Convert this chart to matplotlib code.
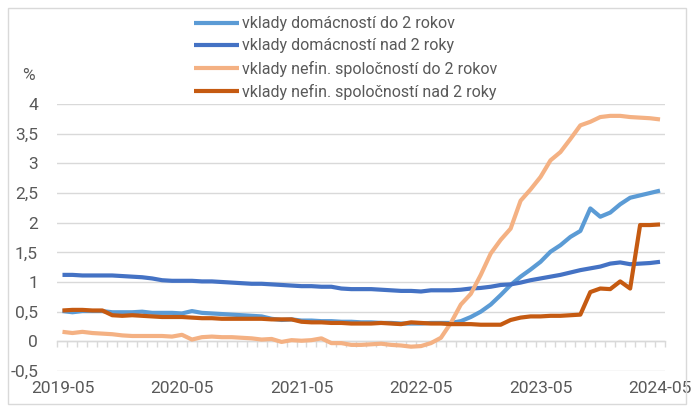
import matplotlib.pyplot as plt
import numpy as np
from matplotlib.patches import Rectangle
from matplotlib.transforms import blended_transform_factory

plt.rcParams["font.family"] = ["Roboto", "DejaVu Sans"]

# monthly observations 2019-05 .. 2024-05
months = [f"{y}-{m:02d}" for y in range(2019, 2025) for m in range(1, 13)]
months = months[4:65]

hh_short = [0.51, 0.49, 0.51, 0.51, 0.51, 0.49, 0.49, 0.49, 0.50, 0.48,
            0.48, 0.48, 0.47, 0.51, 0.48, 0.47, 0.46, 0.45, 0.44, 0.43,
            0.42, 0.38, 0.36, 0.37, 0.35, 0.35, 0.34, 0.34, 0.33, 0.33,
            0.32, 0.32, 0.31, 0.31, 0.30, 0.30, 0.30, 0.31, 0.31, 0.31,
            0.34, 0.41, 0.50, 0.62, 0.78, 0.95, 1.09, 1.21, 1.34, 1.51,
            1.62, 1.76, 1.86, 2.24, 2.10, 2.17, 2.31, 2.42, 2.46, 2.50,
            2.54]
hh_long = [1.12, 1.12, 1.11, 1.11, 1.11, 1.11, 1.10, 1.09, 1.08, 1.06,
           1.03, 1.02, 1.02, 1.02, 1.01, 1.01, 1.00, 0.99, 0.98, 0.97,
           0.97, 0.96, 0.95, 0.94, 0.93, 0.93, 0.92, 0.92, 0.89, 0.88,
           0.88, 0.88, 0.87, 0.86, 0.85, 0.85, 0.84, 0.86, 0.86, 0.86,
           0.87, 0.89, 0.90, 0.92, 0.95, 0.96, 0.99, 1.03, 1.06, 1.09,
           1.12, 1.16, 1.20, 1.23, 1.26, 1.31, 1.33, 1.30, 1.31, 1.32,
           1.34]
nfc_short = [0.16, 0.14, 0.16, 0.14, 0.13, 0.12, 0.10, 0.09, 0.09, 0.09,
             0.09, 0.08, 0.11, 0.03, 0.07, 0.08, 0.07, 0.07, 0.06, 0.05,
             0.03, 0.04, -0.01, 0.02, 0.01, 0.02, 0.05, -0.03, -0.03, -0.06,
             -0.06, -0.05, -0.04, -0.06, -0.07, -0.09, -0.08, -0.03, 0.06, 0.31,
             0.62, 0.80, 1.12, 1.48, 1.71, 1.90, 2.37, 2.56, 2.77, 3.05,
             3.19, 3.41, 3.64, 3.70, 3.78, 3.80, 3.80, 3.78, 3.77, 3.76,
             3.74]
nfc_long = [0.52, 0.53, 0.53, 0.52, 0.52, 0.44, 0.43, 0.44, 0.43, 0.42,
            0.41, 0.41, 0.41, 0.40, 0.39, 0.39, 0.38, 0.38, 0.38, 0.38,
            0.38, 0.37, 0.37, 0.37, 0.33, 0.32, 0.32, 0.31, 0.31, 0.30,
            0.30, 0.30, 0.31, 0.30, 0.29, 0.32, 0.31, 0.30, 0.30, 0.29,
            0.29, 0.29, 0.28, 0.28, 0.28, 0.36, 0.40, 0.42, 0.42, 0.43,
            0.43, 0.44, 0.45, 0.83, 0.89, 0.88, 1.01, 0.89, 1.96, 1.96,
            1.97]

labels = ["vklady domácností do 2 rokov",
          "vklady domácností nad 2 roky",
          "vklady nefin. spoločností do 2 rokov",
          "vklady nefin. spoločností nad 2 roky"]
colors = ["#5B9BD5", "#4472C4", "#F4B183", "#C55A11"]

yticks = [-0.5, 0, 0.5, 1, 1.5, 2, 2.5, 3, 3.5, 4]
ytick_labels = ["-0,5", "0", "0,5", "1", "1,5", "2", "2,5", "3", "3,5", "4"]

TXT = "#595959"
GRID = "#D9D9D9"

W, H = 692, 409
fig = plt.figure(figsize=(W / 100, H / 100), dpi=100)
ax = fig.add_axes([57.5 / W, (H - 371) / H, (665 - 57.5) / W, 267 / H])

x = np.arange(len(months))
lines = []
for vals, lab, col in zip([hh_short, hh_long, nfc_short, nfc_long], labels, colors):
    (ln,) = ax.plot(x, vals, color=col, lw=3.0, label=lab, solid_capstyle="butt",
                    solid_joinstyle="round", zorder=3)
    lines.append(ln)

ax.set_xlim(-0.5, len(months) - 0.5)
ax.set_ylim(-0.5, 4)

# horizontal grid, zero line serves as the category axis
ax.set_yticks(yticks, ytick_labels)
ax.grid(axis="y", color=GRID, lw=1.0, zorder=0)
ax.tick_params(axis="y", length=0, pad=14, labelsize=12.5, labelcolor=TXT)
for s in ["left", "right", "top"]:
    ax.spines[s].set_visible(False)
ax.spines["bottom"].set_position(("data", 0))
ax.spines["bottom"].set_color(GRID)
ax.spines["bottom"].set_linewidth(1.0)
ax.set_xticks(np.arange(len(months) + 1) - 0.5)
ax.tick_params(axis="x", length=4, width=1.0, color=GRID, labelbottom=False)

tr = blended_transform_factory(ax.transData, ax.transAxes)
for i in range(0, len(months), 12):
    ax.text(i, -0.067, months[i], transform=tr, ha="center", va="center",
            fontsize=12.5, color=TXT)

fig.text(28 / W, 1 - 75 / H, "%", ha="center", va="center", fontsize=12.5, color=TXT)

fig.legend(handles=lines, loc="upper left", bbox_to_anchor=(183 / W, 1 - 5 / H),
           frameon=False, fontsize=11.5, labelcolor=TXT, handlelength=2.8,
           handletextpad=0.2, labelspacing=0.45, borderpad=0.2)

fig.patches.append(Rectangle((8 / W, 5 / H), (686 - 8) / W, (401 - 5) / H,
                             transform=fig.transFigure, fill=False,
                             edgecolor=GRID, lw=1.0))

fig.savefig("out.png", dpi=100)
